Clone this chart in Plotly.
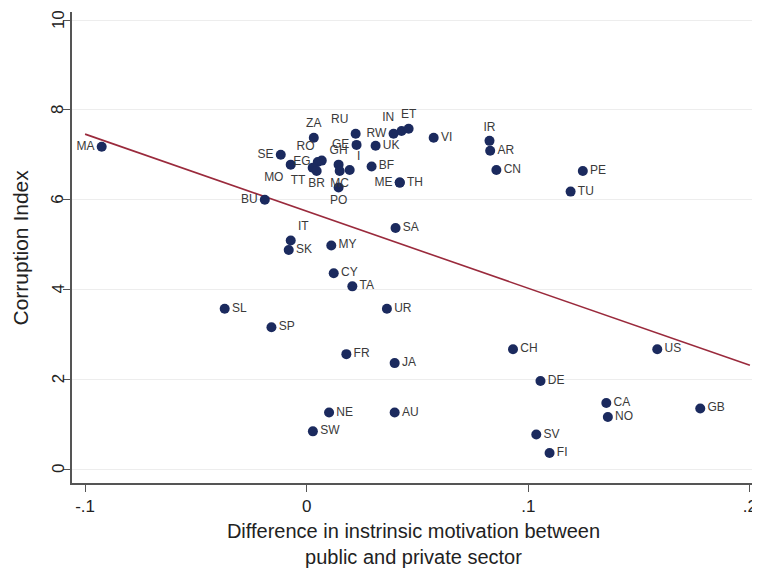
import plotly.graph_objects as go

countries = ["MA", "SE", "MO", "EG", "RO", "GH", "TT", "BR", "MC", "I", "BF",
             "ZA", "RU", "GE", "RW", "UK", "IN", "ET", "VI", "ME", "TH", "PO", "BU",
             "IR", "AR", "CN", "PE", "TU",
             "SA", "IT", "SK", "MY", "CY", "TA", "SL", "UR", "SP", "FR", "JA",
             "NE", "AU", "SW", "CH", "US", "DE", "CA", "NO", "GB", "SV", "FI"]
motivation_diff = [-0.0925, -0.0117, -0.0072, 0.0050, 0.0068, 0.0144, 0.0027, 0.0045, 0.0149, 0.0194, 0.0293,
                   0.0032, 0.0221, 0.0225, 0.0392, 0.0311, 0.0428, 0.0460, 0.0573, 0.0420, 0.0420, 0.0144, -0.0189,
                   0.0825, 0.0828, 0.0856, 0.1246, 0.1191,
                   0.0401, -0.0072, -0.0081, 0.0111, 0.0122, 0.0206, -0.0370, 0.0362, -0.0159, 0.0179, 0.0397,
                   0.0101, 0.0397, 0.0028, 0.0931, 0.1582, 0.1055, 0.1352, 0.1359, 0.1776, 0.1036, 0.1096]
corruption = [7.18, 7.00, 6.78, 6.84, 6.87, 6.78, 6.71, 6.64, 6.64, 6.66, 6.74,
              7.38, 7.47, 7.22, 7.47, 7.20, 7.53, 7.58, 7.38, 6.38, 6.38, 6.27, 6.00,
              7.31, 7.09, 6.66, 6.64, 6.18,
              5.37, 5.09, 4.88, 4.98, 4.36, 4.07, 3.57, 3.57, 3.16, 2.56, 2.36,
              1.26, 1.26, 0.84, 2.67, 2.67, 1.96, 1.47, 1.16, 1.35, 0.77, 0.36]
label_pos = ["middle left", "middle left", "bottom left", "middle left", "top left", "top center",
             "bottom left", "bottom center", "bottom center", "top right", "middle right",
             "top center", "top left", "middle left", "middle left", "middle right", "top left",
             "top center", "middle right", "middle left", "middle right", "bottom center", "middle left",
             "top center", "middle right", "middle right", "middle right", "middle right",
             "middle right", "top right"] + ["middle right"] * 20

fit_x = [-0.1, 0.2]
fit_y = [7.46, 2.31]

x_ticks = [-0.1, 0, 0.1, 0.2]
x_tick_labels = ["-.1", "0", ".1", ".2"]
y_ticks = [0, 2, 4, 6, 8, 10]
y_tick_labels = ["0", "2", "4", "6", "8", "10"]

FONT = "Liberation Sans, Arial, sans-serif"

fig = go.Figure()
fig.add_trace(go.Scatter(
    x=fit_x, y=fit_y, mode="lines",
    line=dict(color="#9a2a3c", width=1.6), hoverinfo="skip", showlegend=False))
fig.add_trace(go.Scatter(
    x=motivation_diff, y=corruption, mode="markers+text",
    text=countries, textposition=label_pos,
    textfont=dict(family=FONT, size=12, color="#3a3a3a"),
    marker=dict(color="#1b2a5e", size=10),
    showlegend=False))

# y tick labels placed close to the axis (Stata style), rotated
for v, lab in zip(y_ticks, y_tick_labels):
    fig.add_annotation(x=0, xref="paper", y=v, yref="y", text=lab, showarrow=False,
                       textangle=-90, xanchor="center", yanchor="middle", xshift=-14,
                       font=dict(family=FONT, size=17, color="#222"))
fig.add_annotation(x=0, xref="paper", y=0.50, yref="paper", text="Corruption Index",
                   showarrow=False, textangle=-90, xanchor="center", yanchor="middle",
                   xshift=-52, font=dict(family=FONT, size=21, color="#222"))

fig.update_layout(
    width=752, height=560,
    margin=dict(l=64, r=5, t=4, b=85),
    paper_bgcolor="white", plot_bgcolor="white",
    font=dict(family=FONT, color="#222"),
    xaxis=dict(
        range=[-0.1059, 0.2023], automargin=False,
        tickvals=x_ticks, ticktext=x_tick_labels, ticklabeloverflow="allow",
        ticks="outside", ticklen=7, tickcolor="#555", tickwidth=1.2,
        tickfont=dict(size=17, color="#222"),
        showline=True, linecolor="#555", linewidth=1.5,
        showgrid=False, zeroline=False,
        title=dict(text="Difference in instrinsic motivation between<br>public and private sector",
                   font=dict(size=20, color="#222"), standoff=17),
    ),
    yaxis=dict(
        range=[-0.31, 10.18], automargin=False,
        tickvals=y_ticks, showticklabels=False,
        ticks="outside", ticklen=7, tickcolor="#555", tickwidth=1.2,
        showline=True, linecolor="#555", linewidth=1.5,
        showgrid=True, gridcolor="#ededed", gridwidth=1, zeroline=False,
    ),
)

fig.write_html("out.html")
